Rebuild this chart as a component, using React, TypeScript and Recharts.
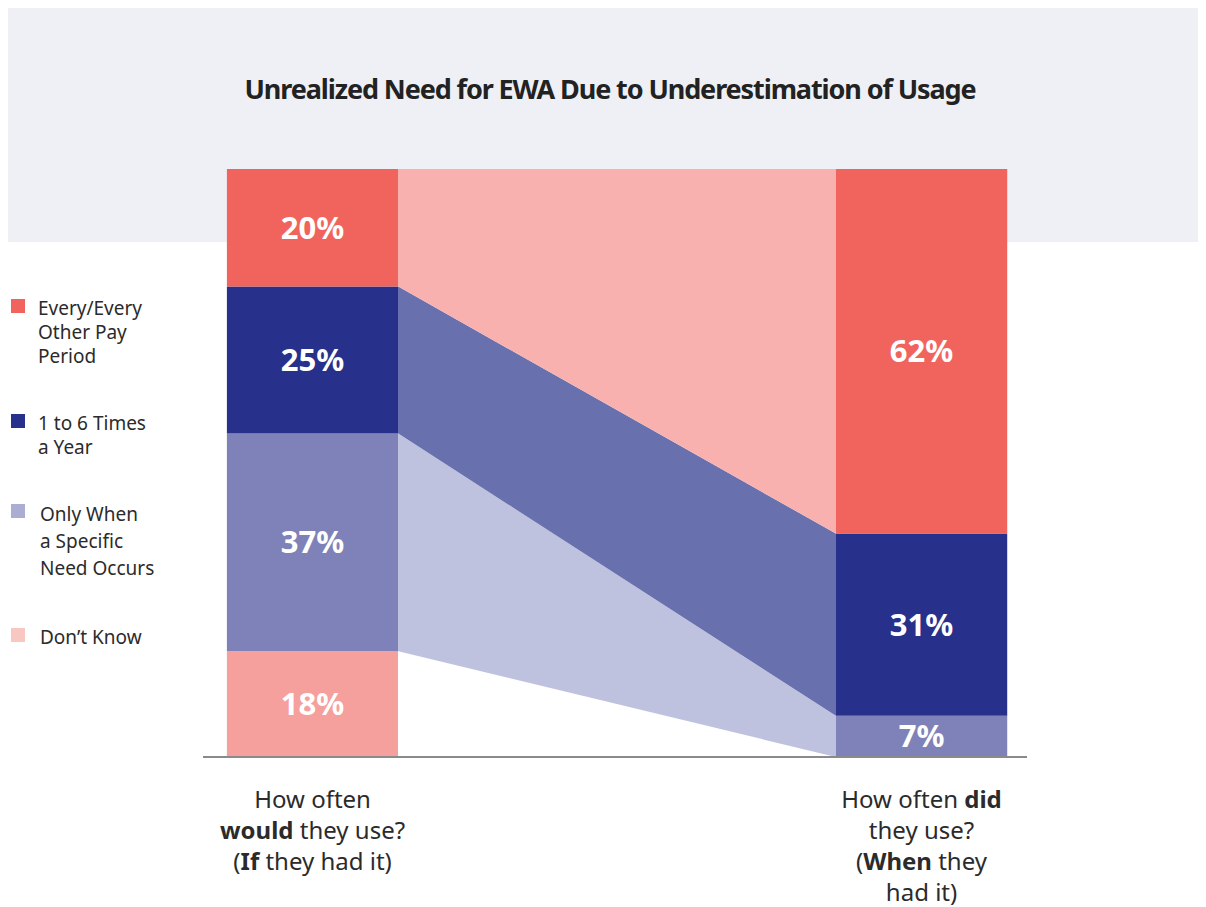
import React from "react";
import { ComposedChart, Area, Scatter, XAxis, YAxis } from "recharts";

// ---------- data ----------
const categories = ["would", "did"];
const seriesKeys = ["dk", "spec", "times", "every"];
const seriesNames = [
  "Don’t Know",
  "Only When a Specific Need Occurs",
  "1 to 6 Times a Year",
  "Every/Every Other Pay Period",
];
const wouldUse = [18, 37, 25, 20]; // If they had it
const didUse = [0, 7, 31, 62]; // When they had it

const legendLines = [
  ["Every/Every", "Other Pay", "Period"],
  ["1 to 6 Times", "a Year"],
  ["Only When", "a Specific", "Need Occurs"],
  ["Don’t Know"],
];

// ---------- styles ----------
const barColors = ["#f5a09c", "#7f82b8", "#27308a", "#f1645d"];
const bandColors = ["#ffffff", "#bfc2de", "#6870ae", "#f8b1ae"];
const bandOpacity = [0, 1, 1, 1];
const legendColors = ["#f1645d", "#27308a", "#abadd3", "#f9c7c1"];
const FONT = "'Noto Sans', 'Open Sans', sans-serif";

// x layout on a 0..100 axis (left bar edges, right bar edges)
const LEFT_BAR = [2.9, 23.7];
const RIGHT_BAR = [76.8, 97.6];
const leftCenter = (LEFT_BAR[0] + LEFT_BAR[1]) / 2;
const rightCenter = (RIGHT_BAR[0] + RIGHT_BAR[1]) / 2;

const makeRow = (x: number, vals: number[]) => {
  const row: any = { x };
  seriesKeys.forEach((k, i) => (row[k] = vals[i]));
  return row;
};
const chartData = [
  makeRow(LEFT_BAR[0], wouldUse),
  makeRow(leftCenter, wouldUse),
  makeRow(LEFT_BAR[1], wouldUse),
  makeRow(RIGHT_BAR[0], didUse),
  makeRow(rightCenter, didUse),
  makeRow(RIGHT_BAR[1], didUse),
];

const buildLabels = (x: number, vals: number[]) => {
  const out: any[] = [];
  let base = 0;
  vals.forEach((v) => {
    if (v > 0) out.push({ x, y: base + v / 2, label: `${v}%` });
    base += v;
  });
  return out;
};
const labelData = [...buildLabels(leftCenter, wouldUse), ...buildLabels(rightCenter, didUse)];

const span = RIGHT_BAR[1] - LEFT_BAR[0];
const f1 = (LEFT_BAR[1] - LEFT_BAR[0]) / span;
const f2 = (RIGHT_BAR[0] - LEFT_BAR[0]) / span;

const tickLines: Record<string, { t: string; b?: boolean }[][]> = {
  would: [
    [{ t: "How often" }],
    [{ t: "would", b: true }, { t: " they use?" }],
    [{ t: "(" }, { t: "If", b: true }, { t: " they had it)" }],
  ],
  did: [
    [{ t: "How often " }, { t: "did", b: true }],
    [{ t: "they use?" }],
    [{ t: "(" }, { t: "When", b: true }, { t: " they" }],
    [{ t: "had it)" }],
  ],
};

const CategoryTick = (props: any) => {
  const { x, y, payload } = props;
  const cat = Math.abs(payload.value - leftCenter) < Math.abs(payload.value - rightCenter) ? categories[0] : categories[1];
  const lines = tickLines[cat];
  return (
    <text x={x} y={y} textAnchor="middle" fontFamily={FONT} fontSize={24} fill="#2b2b2b">
      {lines.map((segs, i) => (
        <tspan key={i} x={x} dy={i === 0 ? 43 : 31}>
          {segs.map((s, j) => (
            <tspan key={j} fontWeight={s.b ? 700 : 400}>
              {s.t}
            </tspan>
          ))}
        </tspan>
      ))}
    </text>
  );
};

const LabelShape = (props: any) => {
  const { cx, cy, payload } = props;
  return (
    <text
      x={cx}
      y={cy}
      dy={11}
      textAnchor="middle"
      fontFamily={FONT}
      fontWeight={700}
      fontSize={31}
      fill="#ffffff"
    >
      {payload.label}
    </text>
  );
};

export default function App() {
  return (
    <div style={{ position: "relative", width: 1198, height: 899, fontFamily: FONT }}>
      <style>{"html,body{overflow:hidden;}"}</style>
      <div
        style={{ position: "absolute", left: 0, top: 0, width: 1230, height: 234, background: "#eff0f5" }}
      />
      <div
        style={{
          position: "absolute",
          left: 0,
          top: 64,
          width: 1198,
          paddingLeft: 6,
          boxSizing: "border-box",
          textAlign: "center",
          fontSize: 27,
          fontWeight: 700,
          lineHeight: "34px",
          color: "#222",
          letterSpacing: -1.1,
        }}
      >
        Unrealized Need for EWA Due to Underestimation of Usage
      </div>
      <div style={{ position: "absolute", left: 0, top: 0 }}>
        <ComposedChart
          width={1198}
          height={899}
          data={chartData}
          margin={{ top: 161, right: 179, left: 195, bottom: 2 }}
        >
          <defs>
            {seriesKeys.map((k, i) => (
              <linearGradient key={k} id={`grad-${k}`} x1="0" y1="0" x2="1" y2="0">
                <stop offset={0} stopColor={barColors[i]} />
                <stop offset={f1} stopColor={barColors[i]} />
                <stop offset={f1} stopColor={bandColors[i]} stopOpacity={bandOpacity[i]} />
                <stop offset={f2} stopColor={bandColors[i]} stopOpacity={bandOpacity[i]} />
                <stop offset={f2} stopColor={barColors[i]} />
                <stop offset={1} stopColor={barColors[i]} />
              </linearGradient>
            ))}
          </defs>
          <XAxis
            type="number"
            dataKey="x"
            domain={[0, 100]}
            ticks={[leftCenter, rightCenter]}
            tick={<CategoryTick />}
            tickLine={false}
            axisLine={{ stroke: "#8a8a8a", strokeWidth: 2 }}
            height={148}
            interval={0}
          />
          <YAxis type="number" domain={[0, 100]} hide />
          {seriesKeys.map((k, i) => (
            <Area
              key={k}
              type="linear"
              dataKey={k}
              name={seriesNames[i]}
              stackId="s"
              stroke="none"
              fill={`url(#grad-${k})`}
              fillOpacity={1}
              dot={false}
              activeDot={false}
              isAnimationActive={false}
            />
          ))}
          <Scatter data={labelData} dataKey="y" shape={<LabelShape />} isAnimationActive={false} />
        </ComposedChart>
      </div>
      <div style={{ position: "absolute", left: 0, top: 288, width: 190 }}>
        {legendLines.map((lines, i) => (
          <div key={i} style={{ display: "flex", alignItems: "flex-start", marginBottom: [43, 42, 43, 0][i] }}>
            <div
              style={{
                width: 14,
                height: 14,
                marginLeft: 3,
                marginTop: 3,
                background: legendColors[i],
                flexShrink: 0,
              }}
            />
            <div style={{ marginLeft: i >= 2 ? 15 : 13, fontSize: 19, lineHeight: i === 2 ? "27px" : "24px", color: "#2b2b2b" }}>
              {lines.map((l, j) => (
                <div key={j}>{l}</div>
              ))}
            </div>
          </div>
        ))}
      </div>
    </div>
  );
}
